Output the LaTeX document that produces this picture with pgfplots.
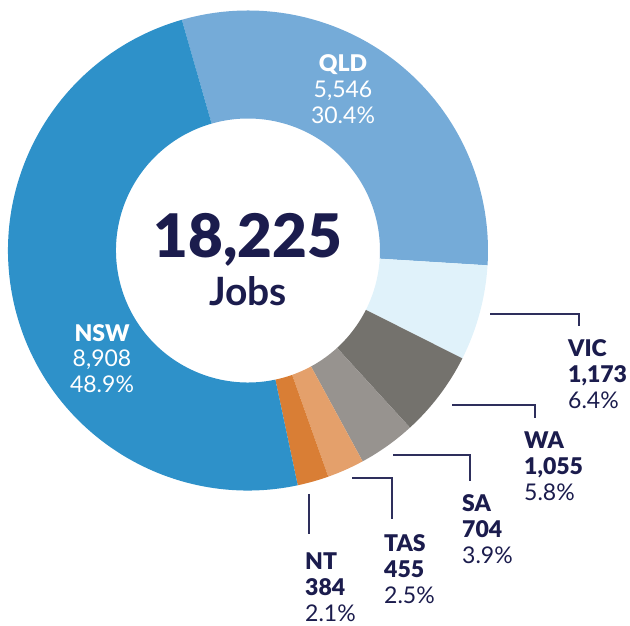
\documentclass[border=0pt]{standalone}
\usepackage{pgfplots}
\usepackage{pgfplotstable}
\pgfplotsset{compat=1.18}
\usepackage{fontspec}
\setmainfont{Lato}
\newfontfamily\latoblack{Lato Black}
\definecolor{cNSW}{HTML}{2E91C9}
\definecolor{cQLD}{HTML}{75ABD8}
\definecolor{cVIC}{HTML}{E0F2FA}
\definecolor{cWA}{HTML}{74726D}
\definecolor{cSA}{HTML}{97938F}
\definecolor{cTAS}{HTML}{E4A06B}
\definecolor{cNT}{HTML}{D97E35}
\definecolor{navy}{HTML}{1B1C4D}
\definecolor{leader}{HTML}{2E2F5C}

% clockwise order starting at the top-left boundary
\pgfplotstableread{
state value
QLD 5546
VIC 1173
WA 1055
SA 704
TAS 455
NT 384
NSW 8908
}\datatable

\def\acc{106}
\pgfplotsforeachungrouped \i in {0,...,6}{%
  \pgfplotstablegetelem{\i}{value}\of\datatable
  \pgfmathsetmacro\spanang{\pgfplotsretval/182.25*3.6}%
  \pgfmathsetmacro\newacc{\acc-\spanang}%
  \expandafter\xdef\csname sA\i\endcsname{\acc}%
  \expandafter\xdef\csname sB\i\endcsname{\newacc}%
  \xdef\acc{\newacc}%
}

\newcommand{\slice}[2]{%
  \fill[#2] (axis cs:248,375.5) ++(\csname sA#1\endcsname:240pt)
    arc[start angle=\csname sA#1\endcsname, end angle=\csname sB#1\endcsname, radius=240pt]
    -- ([shift={(\csname sB#1\endcsname:132pt)}]axis cs:248,375.5)
    arc[start angle=\csname sB#1\endcsname, end angle=\csname sA#1\endcsname, radius=132pt]
    -- cycle;}

\newcommand{\labfont}{\fontsize{23}{26}\selectfont}

\begin{document}
\begin{tikzpicture}[x=1pt,y=1pt]
\useasboundingbox (0,0) rectangle (630,626);
\begin{axis}[at={(0,0)}, anchor=south west, scale only axis, width=630pt, height=626pt,
  xmin=0, xmax=630, ymin=0, ymax=626, hide axis, clip=false]
\slice{0}{cQLD}
\slice{1}{cVIC}
\slice{2}{cWA}
\slice{3}{cSA}
\slice{4}{cTAS}
\slice{5}{cNT}
\slice{6}{cNSW}

% centre
\node[anchor=base, text=navy, font=\fontsize{60}{60}\selectfont\latoblack, inner sep=0] at (axis cs:248,368) {18,225};
\node[anchor=base, text=navy, font=\fontsize{39}{39}\selectfont\bfseries, inner sep=0] at (axis cs:248,320) {Jobs};

% inner labels
\node[anchor=base, text=white, font=\labfont\latoblack, inner sep=0] at (axis cs:343,554) {QLD};
\node[anchor=base, text=white, font=\labfont, inner sep=0] at (axis cs:343,528) {5,546};
\node[anchor=base, text=white, font=\labfont, inner sep=0] at (axis cs:343,502) {30.4\%};

\node[anchor=base, text=white, font=\labfont\latoblack, inner sep=0] at (axis cs:102,284) {NSW};
\node[anchor=base, text=white, font=\labfont, inner sep=0] at (axis cs:102,259) {8,908};
\node[anchor=base, text=white, font=\labfont, inner sep=0] at (axis cs:102,233) {48.9\%};

% outside labels
\newcommand{\olab}[5]{%
  \node[anchor=base west, text=navy, font=\labfont\latoblack, inner sep=0] at (axis cs:#1,#2) {#3};
  \node[anchor=base west, text=navy, font=\labfont\latoblack, inner sep=0] at (axis cs:#1,#2-26) {#4};
  \node[anchor=base west, text=navy, font=\labfont, inner sep=0] at (axis cs:#1,#2-52) {#5};}
\olab{568}{269}{VIC}{1,173}{6.4\%}
\olab{524}{177}{WA}{1,055}{5.8\%}
\olab{462}{114}{SA}{704}{3.9\%}
\olab{384}{74}{TAS}{455}{2.5\%}
\olab{305}{56}{NT}{384}{2.1\%}

% leader lines
\draw[leader, line width=1.3pt] (axis cs:490,312) -- (axis cs:579,312) -- (axis cs:579,300);
\draw[leader, line width=1.3pt] (axis cs:452,221) -- (axis cs:535,221) -- (axis cs:535,208);
\draw[leader, line width=1.3pt] (axis cs:393,171) -- (axis cs:470,171) -- (axis cs:470,145);
\draw[leader, line width=1.3pt] (axis cs:352,148) -- (axis cs:392,148) -- (axis cs:392,107);
\draw[leader, line width=1.3pt] (axis cs:309,132) -- (axis cs:309,92);
\end{axis}
\end{tikzpicture}
\end{document}
